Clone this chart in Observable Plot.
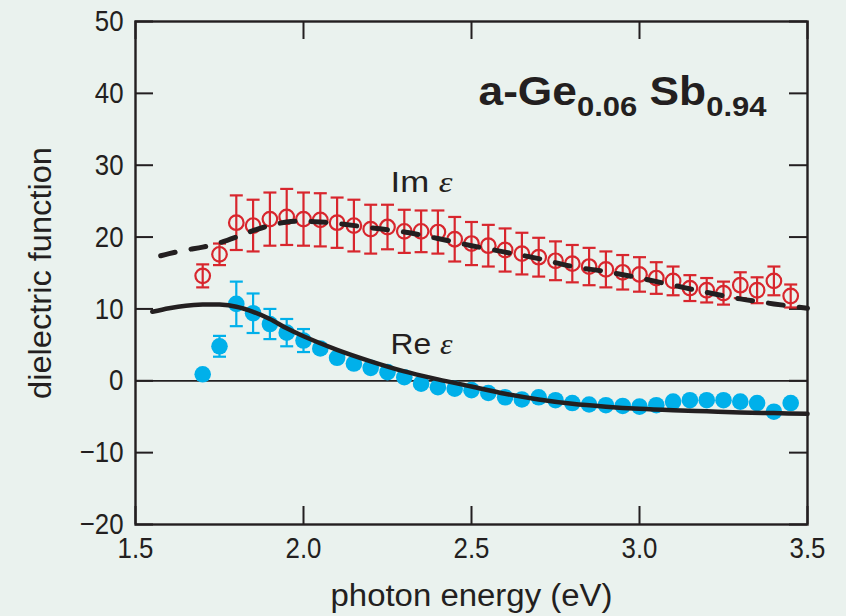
<!DOCTYPE html>
<html><head><meta charset="utf-8">
<script src="https://cdn.jsdelivr.net/npm/d3@7"></script>
<script src="https://cdn.jsdelivr.net/npm/@observablehq/plot@0.6"></script>
<style>
html,body{margin:0;padding:0;background:#eaf2ee;}
</style></head><body><div id="chart"></div><script>
// ---- data ----
const energy = [1.70,1.75,1.80,1.85,1.90,1.95,2.00,2.05,2.10,2.15,2.20,2.25,2.30,2.35,2.40,2.45,2.50,2.55,2.60,2.65,2.70,2.75,2.80,2.85,2.90,2.95,3.00,3.05,3.10,3.15,3.20,3.25,3.30,3.35,3.40,3.45];
const imEps = [14.6,17.6,22.0,21.6,22.5,22.8,22.5,22.4,22.0,21.6,21.1,21.4,20.8,20.8,20.7,19.7,19.1,18.8,18.2,17.7,17.2,16.7,16.3,15.9,15.5,15.1,14.8,14.3,13.9,12.9,12.6,12.2,13.3,12.6,13.9,11.8];
const imErr = [1.6,1.5,3.8,3.6,3.7,3.9,3.7,3.7,3.5,3.6,3.4,3.1,3.0,2.9,3.0,3.1,3.0,2.9,3.0,2.9,2.7,2.7,2.6,2.6,2.5,2.4,2.4,2.2,2.0,1.8,1.7,1.6,1.8,1.8,2.0,1.6];
const reEps = [0.9,4.8,10.7,9.4,7.9,6.7,5.6,4.5,3.2,2.4,1.8,1.2,0.5,-0.4,-0.9,-1.1,-1.3,-1.7,-2.3,-2.6,-2.3,-2.7,-3.1,-3.3,-3.4,-3.5,-3.6,-3.4,-2.9,-2.7,-2.7,-2.7,-2.9,-3.1,-4.3,-3.1];
const reErr = [0,1.45,3.1,2.75,2.1,1.9,1.6,0,0,0,0,0,0,0,0,0,0,0,0,0,0,0,0,0,0,0,0,0,0,0,0,0,0,0,0,0];
const imFitE = [1.575,1.6,1.65,1.7,1.75,1.8,1.85,1.9,1.95,2.0,2.05,2.1,2.2,2.3,2.4,2.5,2.6,2.7,2.8,2.9,3.0,3.1,3.2,3.3,3.4,3.5];
const imFit  = [17.4,17.7,18.2,18.6,19.2,20.0,20.9,21.6,22.1,22.2,22.1,21.9,21.3,20.7,19.8,18.8,17.9,17.0,15.9,15.2,14.3,13.3,12.3,11.4,10.7,10.1];
const reFitE = [1.55,1.6,1.65,1.7,1.75,1.8,1.85,1.9,1.95,2.0,2.1,2.2,2.3,2.4,2.5,2.6,2.7,2.8,2.9,3.0,3.1,3.2,3.3,3.4,3.5];
const reFit  = [9.6,10.1,10.45,10.6,10.6,10.3,9.6,8.6,7.3,6.2,4.3,2.7,1.3,0.2,-0.8,-1.8,-2.6,-3.2,-3.6,-3.9,-4.1,-4.25,-4.4,-4.5,-4.6];
const xTicks = [1.5,2.0,2.5,3.0,3.5];
const yTicks = [-20,-10,0,10,20,30,40,50];
const titleText = "a-Ge0.06 Sb0.94";
const imLabel = "Im ε";
const reLabel = "Re ε";
const xLabel = "photon energy (eV)";
const yLabel = "dielectric function";

// ---- build ----
const imRows = energy.map((e,i)=>({e, v: imEps[i], err: imErr[i]}));
const reRows = energy.map((e,i)=>({e, v: reEps[i], err: reErr[i]}));
const reBarRows = reRows.filter(d=>d.err>0);
const imFitRows = imFitE.map((e,i)=>({e, v: imFit[i]}));
const reFitRows = reFitE.map((e,i)=>({e, v: reFit[i]}));

const INK = "#231f20", RED = "#d8262d", BLUE = "#00b0ea", BG = "#eaf2ee";
const FONT = "'Liberation Sans',Arial,sans-serif";
const W = 846, H = 616, ML = 135, MR = 39, MT = 21, MB = 92;
const PW = W-ML-MR, PH = H-MT-MB, TL = 18;
const cap = {draw(ctx){ ctx.moveTo(-6.5,0); ctx.lineTo(6.5,0); }};

const chart = Plot.plot({
  width: W, height: H,
  marginLeft: ML, marginRight: MR, marginTop: MT, marginBottom: MB,
  style: {background: BG, fontFamily: FONT, color: INK, overflow: "visible"},
  x: {domain: [1.5, 3.5]},
  y: {domain: [-20, 50]},
  marks: [
    Plot.ruleY([0], {stroke: INK, strokeWidth: 1.8}),
    Plot.axisX(xTicks, {tickSize: 0, tickPadding: 12, tickFormat: d3.format(".1f"), fontSize: 30, label: null}),
    Plot.axisY(yTicks, {tickSize: 0, tickPadding: 12, fontSize: 30, label: null}),
    Plot.tickX(xTicks, {x: d=>d, insetTop: PH-TL, stroke: INK, strokeWidth: 2}),
    Plot.tickX(xTicks, {x: d=>d, insetBottom: PH-TL, stroke: INK, strokeWidth: 2}),
    Plot.tickY(yTicks, {y: d=>d, insetRight: PW-TL, stroke: INK, strokeWidth: 2}),
    Plot.tickY(yTicks, {y: d=>d, insetLeft: PW-TL, stroke: INK, strokeWidth: 2}),
    Plot.frame({stroke: INK, strokeWidth: 2.4}),
    // Im error bars + open circles
    Plot.ruleX(imRows, {x: "e", y1: d=>d.v-d.err, y2: d=>d.v+d.err, stroke: RED, strokeWidth: 2.2}),
    Plot.dot(imRows, {x: "e", y: d=>d.v+d.err, symbol: cap, fill: "none", stroke: RED, strokeWidth: 2.2}),
    Plot.dot(imRows, {x: "e", y: d=>d.v-d.err, symbol: cap, fill: "none", stroke: RED, strokeWidth: 2.2}),
    Plot.dot(imRows, {x: "e", y: "v", r: 7.3, fill: "none", stroke: RED, strokeWidth: 2.2}),
    // Re error bars + filled dots
    Plot.ruleX(reBarRows, {x: "e", y1: d=>d.v-d.err, y2: d=>d.v+d.err, stroke: BLUE, strokeWidth: 2.2}),
    Plot.dot(reBarRows, {x: "e", y: d=>d.v+d.err, symbol: cap, fill: "none", stroke: BLUE, strokeWidth: 2.2}),
    Plot.dot(reBarRows, {x: "e", y: d=>d.v-d.err, symbol: cap, fill: "none", stroke: BLUE, strokeWidth: 2.2}),
    Plot.dot(reRows, {x: "e", y: "v", r: 8.3, fill: BLUE, stroke: "none"}),
    // model curves
    Plot.line(imFitRows, {x: "e", y: "v", stroke: INK, strokeWidth: 5, strokeDasharray: "15,16", curve: "catmull-rom"}),
    Plot.line(reFitRows, {x: "e", y: "v", stroke: INK, strokeWidth: 4.5, curve: "catmull-rom"}),
    // labels (top line anchor)
    Plot.text([imLabel], {frameAnchor: "top-left", dx: 255, dy: 150, textAnchor: "start", fontSize: 29, fill: INK}),
    Plot.text([reLabel], {frameAnchor: "top-left", dx: 255, dy: 312, textAnchor: "start", fontSize: 29, fill: INK}),
    Plot.text([titleText], {frameAnchor: "top-left", dx: 343, dy: 55, textAnchor: "start", fontSize: 40, fontWeight: "bold", fill: INK}),
    Plot.text([xLabel], {frameAnchor: "bottom", dy: 72, lineAnchor: "middle", textAnchor: "middle", fontSize: 31, fill: INK}),
    Plot.text([yLabel], {frameAnchor: "left", dx: -94, rotate: -90, lineAnchor: "middle", textAnchor: "middle", fontSize: 31, fill: INK})
  ]
});
document.getElementById("chart").appendChild(chart);

// rich text (subscripts, italic epsilon)
function richify(plain, parts, len) {
  chart.querySelectorAll("text").forEach(t => {
    if (t.textContent === plain) {
      while (t.firstChild) t.removeChild(t.firstChild);
      for (const p of parts) {
        const ts = document.createElementNS("http://www.w3.org/2000/svg", "tspan");
        ts.textContent = p.text;
        if (p.dy) ts.setAttribute("dy", p.dy);
        if (p.size) ts.setAttribute("font-size", p.size);
        if (p.italic) { ts.setAttribute("font-style", "italic"); ts.setAttribute("font-family", "'Liberation Serif','Times New Roman',serif"); }
        t.appendChild(ts);
      }
      if (len) { t.setAttribute("textLength", len); t.setAttribute("lengthAdjust", "spacingAndGlyphs"); }
    }
  });
}
richify(titleText, [{text: "a-Ge"}, {text: "0.06", dy: 11, size: 28}, {text: " Sb", dy: -11, size: 40}, {text: "0.94", dy: 11, size: 28}], 288);
richify(imLabel, [{text: "Im "}, {text: "ε", italic: true}], 62);
richify(reLabel, [{text: "Re "}, {text: "ε", italic: true}], 62);

// fit axis titles to the reference lengths, and condense tick labels
function fitLen(plain, len) {
  chart.querySelectorAll("text").forEach(t => {
    if (t.textContent === plain) { t.setAttribute("textLength", len); t.setAttribute("lengthAdjust", "spacingAndGlyphs"); }
  });
}
fitLen(xLabel, 282);
fitLen(yLabel, 252);
chart.querySelectorAll("g[aria-label='x-axis tick label'] text, g[aria-label='y-axis tick label'] text").forEach(t => {
  const L = t.getComputedTextLength();
  t.setAttribute("textLength", (L * 0.86).toFixed(1));
  t.setAttribute("lengthAdjust", "spacingAndGlyphs");
});
</script></body></html>
